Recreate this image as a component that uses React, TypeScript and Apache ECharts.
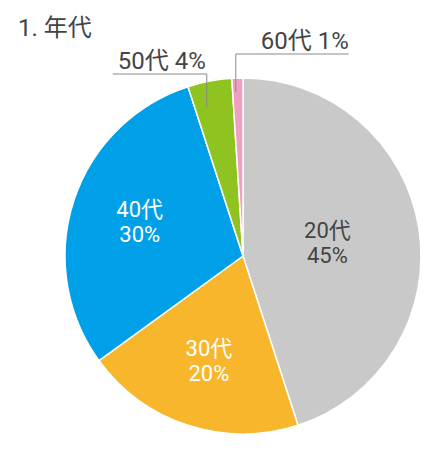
import React, { useEffect, useRef } from "react";
import * as echarts from "echarts";

// Age-group breakdown (percent)
const categories = ["20代", "30代", "40代", "50代", "60代"];
const shares = [45, 20, 30, 4, 1];
const titleText = "1. 年代";

const colors = ["#c9c9c9", "#f8b62d", "#00a0e9", "#8fc31f", "#f19ec2"];
const insideTextColors = ["#444444", "#ffffff", "#ffffff"];

const CX = 243;
const CY = 256;
const R = 178;
const FONT = 'Roboto, "Noto Sans CJK JP", sans-serif';
const LINE_GAP = 25;

// radial position (fraction of radius) of the inside labels
const insideLabelRadius = [0.48, 0.62, 0.61];

// leader-line geometry for the small slices labelled outside
const outsideLines: Record<number, { frac: number; r: number; rise: number; side: number; len: number }> = {
  3: { frac: 0.3, r: 0.86, rise: 4, side: -1, len: 94 },
  4: { frac: 0.3, r: 0.92, rise: 24, side: 1, len: 113 },
};

const total = shares.reduce((a, b) => a + b, 0);
const startFrac = shares.map((_, i) => shares.slice(0, i).reduce((a, b) => a + b, 0) / total);

function polar(angleDeg: number, r: number): [number, number] {
  const a = (angleDeg * Math.PI) / 180;
  return [CX + r * Math.sin(a), CY - r * Math.cos(a)];
}

function insideCenter(i: number): [number, number] {
  const start = startFrac[i] * 360;
  const span = (shares[i] / total) * 360;
  return polar(start + span / 2, R * insideLabelRadius[i]);
}

const basePie = {
  type: "pie",
  center: [CX, CY],
  radius: R,
  startAngle: 90,
  clockwise: true,
  silent: true,
  avoidLabelOverlap: false,
};

export default function App() {
  const ref = useRef<HTMLDivElement>(null);

  useEffect(() => {
    if (!ref.current) return;
    const chart = echarts.init(ref.current, null, { renderer: "svg" });

    // the coloured slices
    const sliceData = categories.map((name, i) => ({
      name,
      value: shares[i],
      itemStyle: { color: colors[i] },
    }));

    // transparent copies on top carry the labels, so leader lines sit over the slices:
    // one for the category line (and the outside labels), one for the percent line
    const nameData = categories.map((name, i) => {
      const outside = i in outsideLines;
      return {
        name,
        value: shares[i],
        label: outside
          ? { position: "outside", color: "#444444", fontSize: 24, formatter: "{b} {c}%" }
          : { position: "inside", color: insideTextColors[i], formatter: "{b}" },
        labelLine: { show: outside, lineStyle: { color: "#8a8a8a", width: 1 } },
      };
    });
    const pctData = categories.map((name, i) => ({
      name,
      value: shares[i],
      label: { show: !(i in outsideLines), color: insideTextColors[i] ?? "#444444", formatter: "{c}%" },
    }));

    const labelText = { fontFamily: FONT, fontSize: 22 };
    const transparent = { color: "rgba(0,0,0,0)", borderWidth: 0 };

    chart.setOption({
      animation: false,
      title: {
        text: titleText,
        left: 13,
        top: 11,
        textStyle: { fontFamily: FONT, fontSize: 24, fontWeight: "normal", color: "#444444" },
      },
      series: [
        {
          ...basePie,
          z: 2,
          itemStyle: { borderColor: "#ffffff", borderWidth: 1.5 },
          label: { show: false },
          labelLine: { show: false },
          data: sliceData,
        },
        {
          ...basePie,
          z: 3,
          itemStyle: transparent,
          label: labelText,
          data: nameData,
          labelLayout: (params: any) => {
            const i = params.dataIndex;
            const cfg = outsideLines[i];
            if (!cfg) {
              const [x, y] = insideCenter(i);
              return { x, y: y - LINE_GAP / 2, align: "center", verticalAlign: "middle" };
            }
            const start = startFrac[i] * 360;
            const span = (shares[i] / total) * 360;
            const anchor = polar(start + cfg.frac * span, R * cfg.r);
            const lineY = CY - R - cfg.rise;
            const corner: [number, number] = [anchor[0], lineY];
            const end: [number, number] = [anchor[0] + cfg.side * cfg.len, lineY];
            const textRight = cfg.side < 0 ? anchor[0] - 1 : end[0];
            return {
              x: textRight,
              y: lineY - 1,
              align: "right",
              verticalAlign: "bottom",
              labelLinePoints: [anchor, corner, end],
            };
          },
        },
        {
          ...basePie,
          z: 3,
          itemStyle: transparent,
          label: { ...labelText, position: "inside" },
          labelLine: { show: false },
          data: pctData,
          labelLayout: (params: any) => {
            const i = params.dataIndex;
            if (i in outsideLines) return {};
            const [x, y] = insideCenter(i);
            return { x, y: y + LINE_GAP / 2, align: "center", verticalAlign: "middle" };
          },
        },
      ],
    });

    return () => chart.dispose();
  }, []);

  return (
    <div
      ref={ref}
      style={{ position: "absolute", left: 0, top: 0, width: 446, height: 450, background: "#ffffff" }}
    />
  );
}
